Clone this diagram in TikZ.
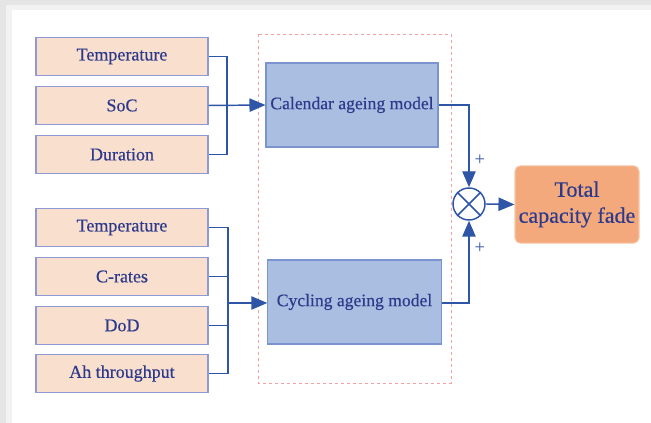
\documentclass[tikz,border=0pt]{standalone}
\usepackage{fontspec}
\setmainfont{Liberation Serif}
\newfontfamily\boxfont[FakeBold=0.4]{Liberation Serif}
\usetikzlibrary{arrows.meta,shadings}
\definecolor{inbox}{HTML}{F9DFCD}
\definecolor{inedge}{HTML}{8D9AD6}
\definecolor{modbox}{HTML}{A9BEE0}
\definecolor{modedge}{HTML}{7B93CF}
\definecolor{wire}{HTML}{2F55A6}
\definecolor{txt}{HTML}{2D3A8C}
\definecolor{outbox}{HTML}{F3A97B}
\definecolor{outedge}{HTML}{F6C7A6}
\definecolor{framered}{HTML}{F3A0A0}
\tikzset{
  inputbox/.style={draw=inedge, fill=inbox, line width=0.8pt, minimum width=129pt, minimum height=29pt, inner sep=0pt, text=txt, font=\boxfont\fontsize{13.5}{15}\selectfont},
  modelbox/.style={draw=modedge, fill=modbox, line width=0.8pt, minimum width=129pt, minimum height=63pt, inner sep=0pt, text=txt, font=\boxfont\fontsize{13.2}{15}\selectfont},
  wireline/.style={draw=wire, line width=1.1pt},
  arr/.style={wireline, -{Triangle[length=12pt,width=10pt]}},
}
\begin{document}
\begin{tikzpicture}[x=0.75pt,y=-0.75pt]
\useasboundingbox (0,0) rectangle (651,423);
% page shadow
\fill[black!10] (0,0) rectangle (651,423);
\fill[black!5] (6,5) rectangle (651,423);
\fill[white] (12,10) rectangle (651,423);
% dashed frame
\draw[framered, line width=0.6pt, dash pattern=on 2.5pt off 2pt] (258,34) rectangle (451,383);
% inputs
\node[inputbox] (t1) at (122,56.5) {Temperature};
\node[inputbox] (s1) at (122,105.5) {SoC};
\node[inputbox] (d1) at (122,154.5) {Duration};
\node[inputbox] (t2) at (122,227.5) {Temperature};
\node[inputbox] (c2) at (122,276.5) {C-rates};
\node[inputbox] (d2) at (122,325.5) {DoD};
\node[inputbox] (a2) at (122,373.5) {Ah throughput};
% models
\node[modelbox] (cal) at (352,105) {Calendar ageing model};
\node[modelbox, minimum width=130pt] (cyc) at (354.5,302) {Cycling ageing model};
% operator
\node[draw=wire, line width=1.1pt, circle, minimum size=24pt, inner sep=0pt, fill=white] (op) at (469,204) {};
\draw[wire, line width=1.1pt] (op.north west) -- (op.south east) (op.north east) -- (op.south west);
% output
\node[draw=outedge, fill=outbox, rounded corners=4pt, line width=0.8pt, minimum width=93pt, minimum height=58pt, inner sep=0pt, text=txt, align=center, font=\boxfont\fontsize{16.5}{19.5}\selectfont] (tot) at (577,204.5) {Total\\capacity fade};
% buses
\coordinate (b1) at (227,105);
\draw[wireline] (t1.east) -| (b1) |- (d1.east);
\draw[arr] (s1.east) -- (cal.west);
\coordinate (b2) at (228,303);
\draw[wireline] (t2.east) -| (b2) |- (a2.east);
\draw[wireline] (c2.east) -- (c2.east -| b2);
\draw[wireline] (d2.east) -- (d2.east -| b2);
\draw[arr] (b2) -- (cyc.west |- b2);
% to operator
\draw[arr] (cal.east) -| (op.north);
\draw[arr] (cyc.east |- b2) -| (op.south);
\draw[arr] (op.east) -- (tot.west);
\node[text=wire, font=\fontsize{14}{14}\selectfont, inner sep=0pt] (p1) at (480,160) {+};
\node[text=wire, font=\fontsize{14}{14}\selectfont, inner sep=0pt] (p2) at (480,248) {+};
\end{tikzpicture}
\end{document}
